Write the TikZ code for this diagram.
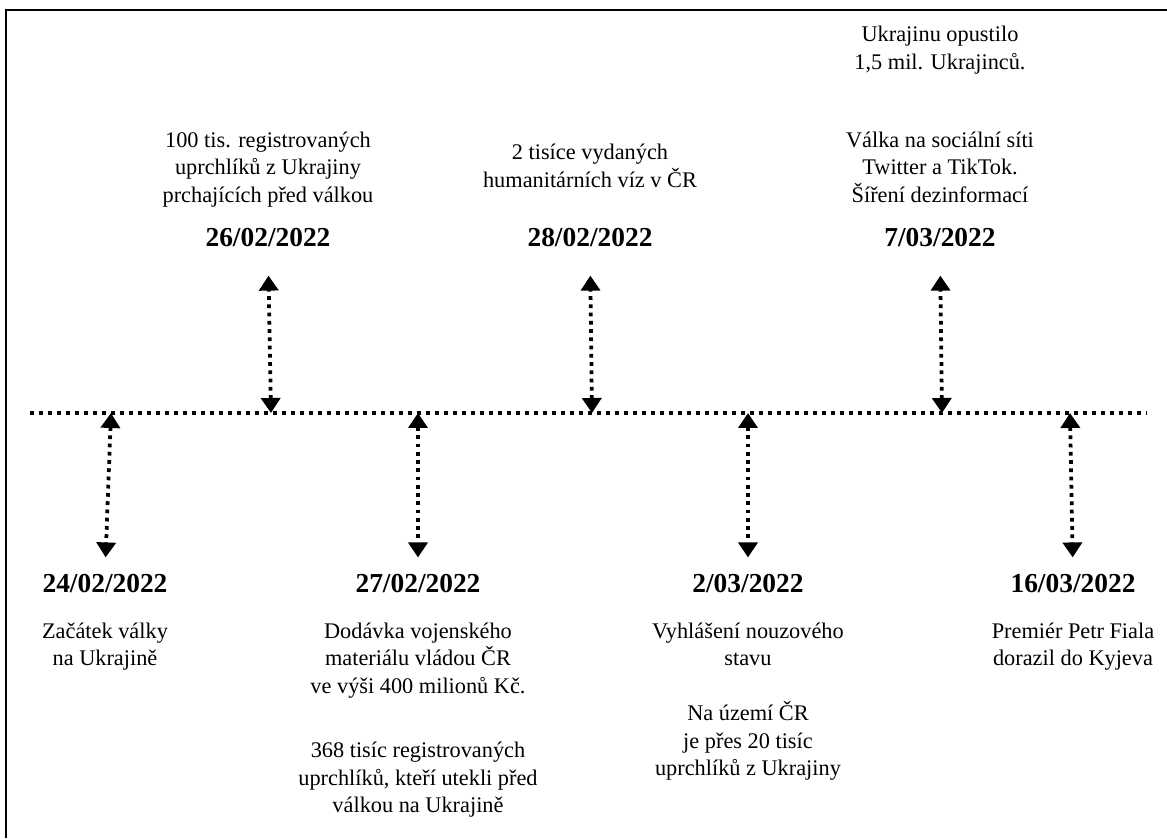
\documentclass[tikz,border=0pt]{standalone}
\usepackage{fontspec}
\setmainfont{Liberation Serif}
\usepackage{tikz}
\usetikzlibrary{arrows.meta,positioning}

\begin{document}
\begin{tikzpicture}[
		datum/.style={font=\fontsize{15.6}{18}\selectfont\bfseries, inner sep=0pt},
		popis/.style={font=\fontsize{12.7}{15.6}\selectfont, align=center, inner sep=0pt,
			execute at begin node=\strut, execute at end node=\strut},
		osa/.style={line width=0.08cm, dash pattern=on 0.08cm off 0.1cm},
		sipka/.style={line width=0.075cm, dash pattern=on 0.075cm off 0.09cm,
			{Triangle[width=0.38cm,length=0.3cm]}-{Triangle[width=0.38cm,length=0.3cm]}}
	]
	\useasboundingbox (0,0) rectangle (23.34,16.76);
	\draw[line width=0.03cm] (0.12,0) -- (0.12,16.56) -- (23.34,16.56);
	% casova osa
	\coordinate (zac) at (0.6,8.5);
	\coordinate (kon) at (22.94,8.5);
	\draw[osa] (zac) -- (kon);
	\coordinate (t1) at (2.22,8.5);
	\coordinate (t2) at (8.36,8.5);
	\coordinate (t3) at (14.96,8.5);
	\coordinate (t4) at (21.4,8.5);
	\coordinate (u1) at (5.42,8.5);
	\coordinate (u2) at (11.84,8.5);
	\coordinate (u3) at (18.84,8.5);
	% dolni udalosti
	\node[datum,anchor=base] (d1) at (2.1,4.92) {24/02/2022};
	\node[datum,anchor=base] (d2) at (8.36,4.92) {27/02/2022};
	\node[datum,anchor=base] (d3) at (14.96,4.92) {2/03/2022};
	\node[datum,anchor=base] (d4) at (21.46,4.92) {16/03/2022};
	\node[popis,below=0.6cm of d1] (p1) {Začátek války\\na Ukrajině};
	\node[popis,below=0.6cm of d2] (p2) {Dodávka vojenského\\materiálu vládou ČR\\ve výši 400 milionů Kč.\\[21pt]
		368 tisíc registrovaných\\uprchlíků, kteří utekli před\\válkou na Ukrajině};
	\node[popis,below=0.6cm of d3] (p3) {Vyhlášení nouzového\\stavu\\[15.6pt]
		Na území ČR\\je přes 20 tisíc\\uprchlíků z Ukrajiny};
	\node[popis,below=0.6cm of d4] (p4) {Premiér Petr Fiala\\dorazil do Kyjeva};
	\draw[sipka,shorten >=0.32cm] (t1) -- (d1.north);
	\draw[sipka,shorten >=0.32cm] (t2) -- (d2.north);
	\draw[sipka,shorten >=0.32cm] (t3) -- (d3.north);
	\draw[sipka,shorten >=0.32cm] (t4) -- (d4.north);
	% horni udalosti
	\node[datum,anchor=base] (h1) at (5.36,11.82) {26/02/2022};
	\node[datum,anchor=base] (h2) at (11.8,11.82) {28/02/2022};
	\node[datum,anchor=base] (h3) at (18.8,11.82) {7/03/2022};
	\node[popis,above=0.35cm of h1] (q1) {100 tis. registrovaných\\uprchlíků z Ukrajiny\\prchajících před válkou};
	\node[popis,above=0.65cm of h2] (q2) {2 tisíce vydaných\\humanitárních víz v ČR};
	\node[popis,above=0.35cm of h3] (q3) {Ukrajinu opustilo\\1,5 mil. Ukrajinců.\\[29pt]
		Válka na sociální síti\\Twitter a TikTok.\\Šíření dezinformací};
	\draw[sipka,shorten >=0.56cm] (u1) -- (h1.south);
	\draw[sipka,shorten >=0.56cm] (u2) -- (h2.south);
	\draw[sipka,shorten >=0.56cm] (u3) -- (h3.south);
\end{tikzpicture}
\end{document}
